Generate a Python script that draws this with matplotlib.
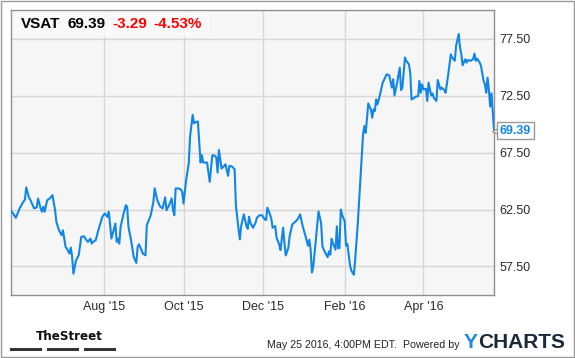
import pandas as pd
import matplotlib
matplotlib.use('Agg')
import matplotlib.pyplot as plt
import matplotlib.dates as mdates
from matplotlib.patches import Rectangle

# VSAT close: days since start_date -> price
start_date = '2015-05-22'
end_date = '2016-05-25'
day = [0, 2, 4, 7, 9, 11, 12, 14, 15, 18, 20, 21, 23, 24, 25, 26, 28, 30, 32, 34,
       35, 37, 39, 40, 42, 43, 45, 46, 47, 48, 50, 52, 54, 56, 58, 59, 61, 62, 63, 65,
       67, 70, 72, 74, 75, 77, 80, 81, 82, 83, 84, 86, 88, 89, 90, 92, 94, 96, 97, 98,
       100, 101, 103, 104, 105, 107, 109, 110, 112, 114, 116, 118, 119, 121, 123, 124, 125, 126, 128, 130,
       131, 132, 134, 136, 137, 139, 140, 142, 143, 145, 146, 147, 150, 152, 154, 156, 157, 158, 159, 161,
       163, 164, 166, 167, 169, 171, 172, 174, 175, 176, 178, 180, 181, 182, 183, 185, 187, 188, 190, 192,
       194, 195, 196, 198, 199, 200, 202, 203, 205, 206, 208, 209, 210, 212, 213, 215, 217, 219, 221, 223,
       225, 227, 228, 229, 230, 231, 233, 235, 237, 238, 240, 242, 243, 244, 245, 246, 248, 249, 250, 251,
       252, 253, 255, 256, 257, 259, 260, 262, 263, 265, 267, 269, 270, 271, 272, 273, 275, 276, 277, 278,
       279, 280, 282, 284, 285, 287, 289, 291, 292, 293, 295, 297, 298, 299, 301, 302, 304, 305, 306, 308,
       309, 311, 312, 313, 314, 315, 317, 318, 319, 321, 322, 323, 325, 326, 328, 329, 331, 332, 334, 336,
       337, 339, 340, 342, 343, 344, 345, 347, 348, 349, 351, 352, 353, 354, 355, 356, 358, 359, 361, 362,
       363, 364, 365, 366, 367, 369]
price = [62.44, 62.15, 61.77, 62.60, 63.03, 63.38, 64.44, 63.56, 63.38, 62.60, 62.68, 63.47, 62.60, 62.30, 62.74, 62.30, 63.32, 63.47, 63.76, 62.44,
         61.41, 60.68, 60.24, 60.68, 59.22, 59.07, 58.63, 59.16, 58.34, 56.87, 58.04, 58.48, 60.10, 60.15, 59.80, 59.66, 59.95, 59.51, 59.66, 59.80,
         60.68, 61.85, 62.15, 61.85, 62.30, 59.95, 61.27, 59.66, 59.95, 59.51, 60.98, 62.00, 62.88, 62.73, 60.98, 59.80, 58.34, 57.81, 59.22, 59.45,
         58.92, 58.63, 58.48, 61.12, 61.41, 62.00, 63.17, 64.35, 63.32, 62.79, 62.59, 63.56, 62.44, 62.88, 63.47, 62.44, 62.00, 64.35, 64.35, 64.26,
         64.05, 63.03, 65.08, 66.55, 68.90, 70.80, 70.07, 70.21, 70.21, 66.62, 67.27, 66.62, 66.62, 64.92, 67.27, 67.21, 67.06, 65.74, 67.73, 66.09,
         66.33, 66.47, 65.45, 66.33, 66.27, 66.03, 62.81, 60.76, 59.88, 61.05, 62.07, 61.05, 60.81, 61.87, 61.34, 60.90, 61.34, 61.78, 61.99, 61.99,
         61.63, 61.58, 62.66, 62.07, 61.69, 60.90, 61.05, 60.02, 59.44, 58.94, 60.90, 59.58, 58.47, 59.14, 60.17, 61.19, 61.40, 61.63, 62.07, 61.02,
         60.20, 59.32, 59.85, 58.97, 56.97, 57.50, 59.85, 62.34, 61.31, 59.26, 58.73, 58.32, 58.82, 58.53, 59.93, 59.55, 58.97, 61.02, 59.11, 59.11,
         62.49, 62.05, 61.46, 59.32, 59.49, 57.65, 57.15, 56.77, 58.09, 61.31, 65.12, 69.08, 69.82, 69.23, 70.46, 71.81, 71.28, 70.55, 71.28, 71.14,
         72.16, 71.72, 72.60, 73.63, 73.86, 74.36, 74.27, 73.19, 73.92, 72.50, 73.63, 74.95, 72.98, 73.19, 75.83, 75.54, 75.24, 74.51, 72.15, 72.30,
         72.39, 72.44, 73.78, 72.74, 73.48, 73.04, 73.10, 72.02, 73.63, 72.50, 72.68, 72.30, 72.02, 73.86, 73.04, 73.19, 72.98, 72.74, 74.36, 76.12,
         75.83, 75.54, 76.85, 77.90, 76.71, 76.12, 75.15, 75.68, 75.39, 75.62, 75.54, 75.62, 75.68, 76.18, 75.54, 75.74, 75.39, 75.10, 73.78, 73.48,
         72.74, 74.07, 73.04, 71.52, 72.69, 69.39]

ticker = 'VSAT'
last_price = '69.39'
change = '-3.29'
change_pct = '-4.53%'
y_ticks = [57.5, 62.5, 67.5, 72.5, 77.5]
x_ticks = ['2015-08-01', '2015-10-01', '2015-12-01', '2016-02-01', '2016-04-01']
footer = 'May 25 2016, 4:00PM EDT.  Powered by'

dates = pd.Timestamp(start_date) + pd.to_timedelta(day, unit='D')

plt.rcParams['font.family'] = ['Liberation Sans', 'DejaVu Sans']

fig = plt.figure(figsize=(5.75, 3.58), dpi=100)
ax = fig.add_axes([0.0183, 0.176, 0.841, 0.796])
ax.set_facecolor('#f6f6f6')

ax.plot(dates, price, color='#1186e6', lw=1.5, zorder=3)

ax.set_xlim(pd.Timestamp(start_date), pd.Timestamp(end_date))
ax.set_ylim(55.0, 80.0)
ax.set_yticks(y_ticks)
ax.yaxis.set_major_formatter(matplotlib.ticker.FormatStrFormatter('%.2f'))
ax.yaxis.tick_right()
ax.set_xticks(pd.to_datetime(x_ticks))
ax.xaxis.set_major_formatter(mdates.DateFormatter("%b '%y"))
ax.tick_params(length=0, labelsize=9, colors='#2a2a2a', pad=4)
ax.grid(True, color='#d6d6d6', lw=1)
ax.set_axisbelow(True)
for s in ax.spines.values():
    s.set_color('#8f8f8f')
    s.set_linewidth(1)

# header strip
ax.add_patch(Rectangle((0, 0.906), 0.41, 0.094, transform=ax.transAxes,
                       facecolor='#fafafa', alpha=0.85, edgecolor='none', zorder=2))
hy = 0.952
ax.text(0.022, hy, ticker, transform=ax.transAxes, fontsize=11, fontweight='bold', va='center')
ax.text(0.117, hy, last_price, transform=ax.transAxes, fontsize=11, fontweight='bold', va='center')
ax.text(0.211, hy, change, transform=ax.transAxes, fontsize=11, fontweight='bold', va='center', color='#ff0000')
ax.text(0.295, hy, change_pct, transform=ax.transAxes, fontsize=11, fontweight='bold', va='center', color='#ff0000')

# last price flag on the right axis
trans = matplotlib.transforms.blended_transform_factory(ax.transAxes, ax.transData)
ax.plot([1.006], [price[-1]], marker='<', ms=7, mfc='white', mec='#999999', mew=1,
        transform=trans, clip_on=False, zorder=4)
ax.text(1.012, price[-1], last_price, transform=trans, fontsize=9, fontweight='bold',
        color='#1186e6', va='center', ha='left', zorder=5,
        bbox=dict(boxstyle='square,pad=0.2', fc='white', ec='#999999', lw=1))

# footer
fig.text(36 / 575, 1 - 336 / 358, 'TheStreet', family=['DejaVu Sans'], fontstretch='condensed',
         fontsize=9.5, fontweight='bold', va='center', ha='left', color='#111111')
for x0 in [10, 47, 84]:
    fig.patches.append(Rectangle((x0 / 575, 1 - 351 / 358), 32 / 575, 3 / 358,
                                 transform=fig.transFigure, facecolor='#333333', edgecolor='none'))
fig.text(460 / 575, 1 - 345 / 358, footer, fontsize=7.7, color='#222222', va='center', ha='right')
fig.text(464 / 575, 1 - 342 / 358, 'Y', fontsize=15, fontweight='bold', color='#1e88e5', va='center', ha='left')
fig.text(478 / 575, 1 - 342 / 358, 'CHARTS', fontsize=15, fontweight='bold', color='#1b2a3a', va='center', ha='left')

# outer frame
fig.patches.append(Rectangle((0.001, 0.002), 0.997, 0.995, transform=fig.transFigure,
                             facecolor='none', edgecolor='#999999', lw=1))

fig.savefig('out.png', dpi=100)
